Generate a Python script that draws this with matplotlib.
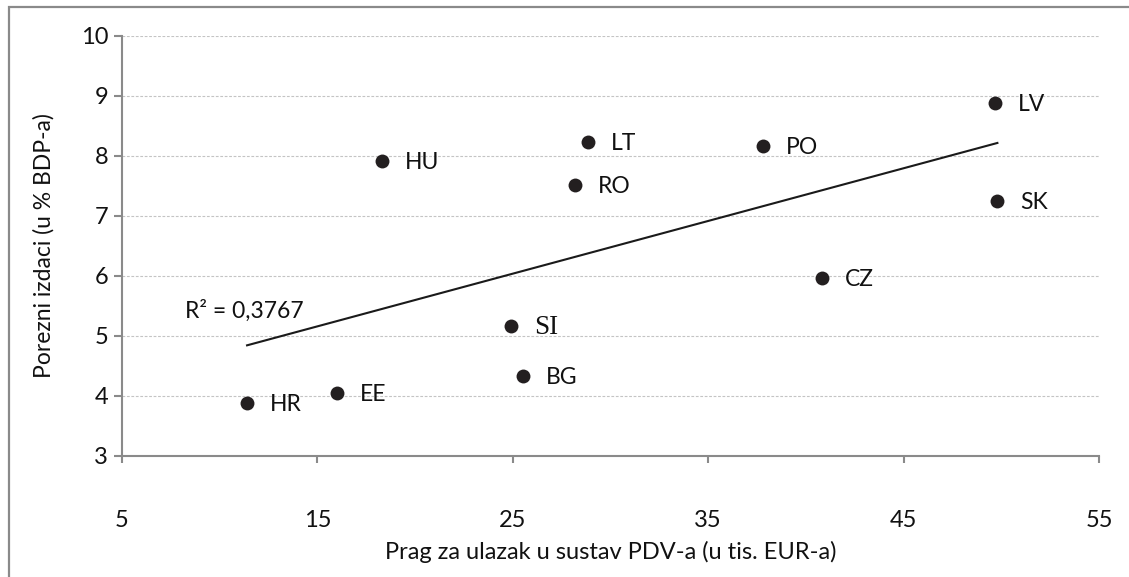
import numpy as np
import matplotlib
matplotlib.use("Agg")
import matplotlib.pyplot as plt
from matplotlib.patches import Rectangle

# Data
countries = ["HR", "EE", "HU", "SI", "BG", "RO", "LT", "PO", "CZ", "LV", "SK"]
threshold = [11.4, 16.0, 18.3, 24.9, 25.5, 28.2, 28.85, 37.8, 40.8, 49.7, 49.8]
tax_exp = [3.88, 4.05, 7.92, 5.17, 4.33, 7.52, 8.23, 8.17, 5.97, 8.88, 7.25]
x_ticks = [5, 15, 25, 35, 45, 55]
y_ticks = [3, 4, 5, 6, 7, 8, 9, 10]
r2_label = "R² = 0,3767"
x_label = "Prag za ulazak u sustav PDV-a (u tis. EUR-a)"
y_label = "Porezni izdaci (u % BDP-a)"

plt.rcParams['font.family'] = ['Lato', 'DejaVu Sans']

W, H = 1129, 577
fig = plt.figure(figsize=(W / 100, H / 100), dpi=100)
ax = fig.add_axes([122 / W, 1 - 456 / H, (1099 - 122) / W, (456 - 36) / H])

# outer frame (left and top edges visible)
fig.patches.append(Rectangle((8.5 / W, -0.1), 1.2, 1.1 - 7.5 / H,
                             transform=fig.transFigure, fill=False,
                             edgecolor="#8a8a8a", linewidth=1.6, zorder=0))

x = np.array(threshold)
y = np.array(tax_exp)

ax.set_xlim(5, 55)
ax.set_ylim(3, 10)
ax.set_xticks(x_ticks)
ax.set_yticks(y_ticks)

for yy in y_ticks[1:]:
    ax.axhline(yy, color="#c4c4c4", linewidth=0.8, linestyle=(0, (2.5, 1.5)), zorder=1)

# trend line
b, a = np.polyfit(x, y, 1)
xl = np.array([x.min(), x.max()])
ax.plot(xl, a + b * xl, color="#1a1a1a", linewidth=1.5, zorder=2)

ax.scatter(x, y, s=100, color="#231f20", zorder=3, linewidths=0)

for c, xi, yi in zip(countries, x, y):
    if c == "SI":
        ax.annotate(c, (xi, yi), xytext=(16.5, -1), textcoords="offset points",
                    va="center", ha="left", fontsize=19.5,
                    family=["Liberation Serif", "DejaVu Serif"], color="#111111")
    else:
        ax.annotate(c, (xi, yi), xytext=(16.5, -1), textcoords="offset points",
                    va="center", ha="left", fontsize=16.5, color="#111111")

ax.text(8.2, 5.42, r2_label, fontsize=16.5, va="center", ha="left", color="#111111")

for s in ["top", "right"]:
    ax.spines[s].set_visible(False)
for s in ["left", "bottom"]:
    ax.spines[s].set_color("#8a8a8a")
    ax.spines[s].set_linewidth(1.5)

ax.tick_params(axis="y", direction="out", length=6, width=1.5, color="#8a8a8a",
               labelsize=17, pad=4, labelcolor="#111111")
ax.tick_params(axis="x", direction="out", length=5, width=1.5, color="#8a8a8a",
               labelsize=17, pad=34, labelcolor="#111111")

ax.set_xlabel(x_label, fontsize=17, color="#111111")
ax.xaxis.set_label_coords(0.5, -0.203)
ax.set_ylabel(y_label, fontsize=16.5, color="#111111")
ax.yaxis.set_label_coords(-0.069, 0.5)

fig.savefig("out.png", dpi=100)
